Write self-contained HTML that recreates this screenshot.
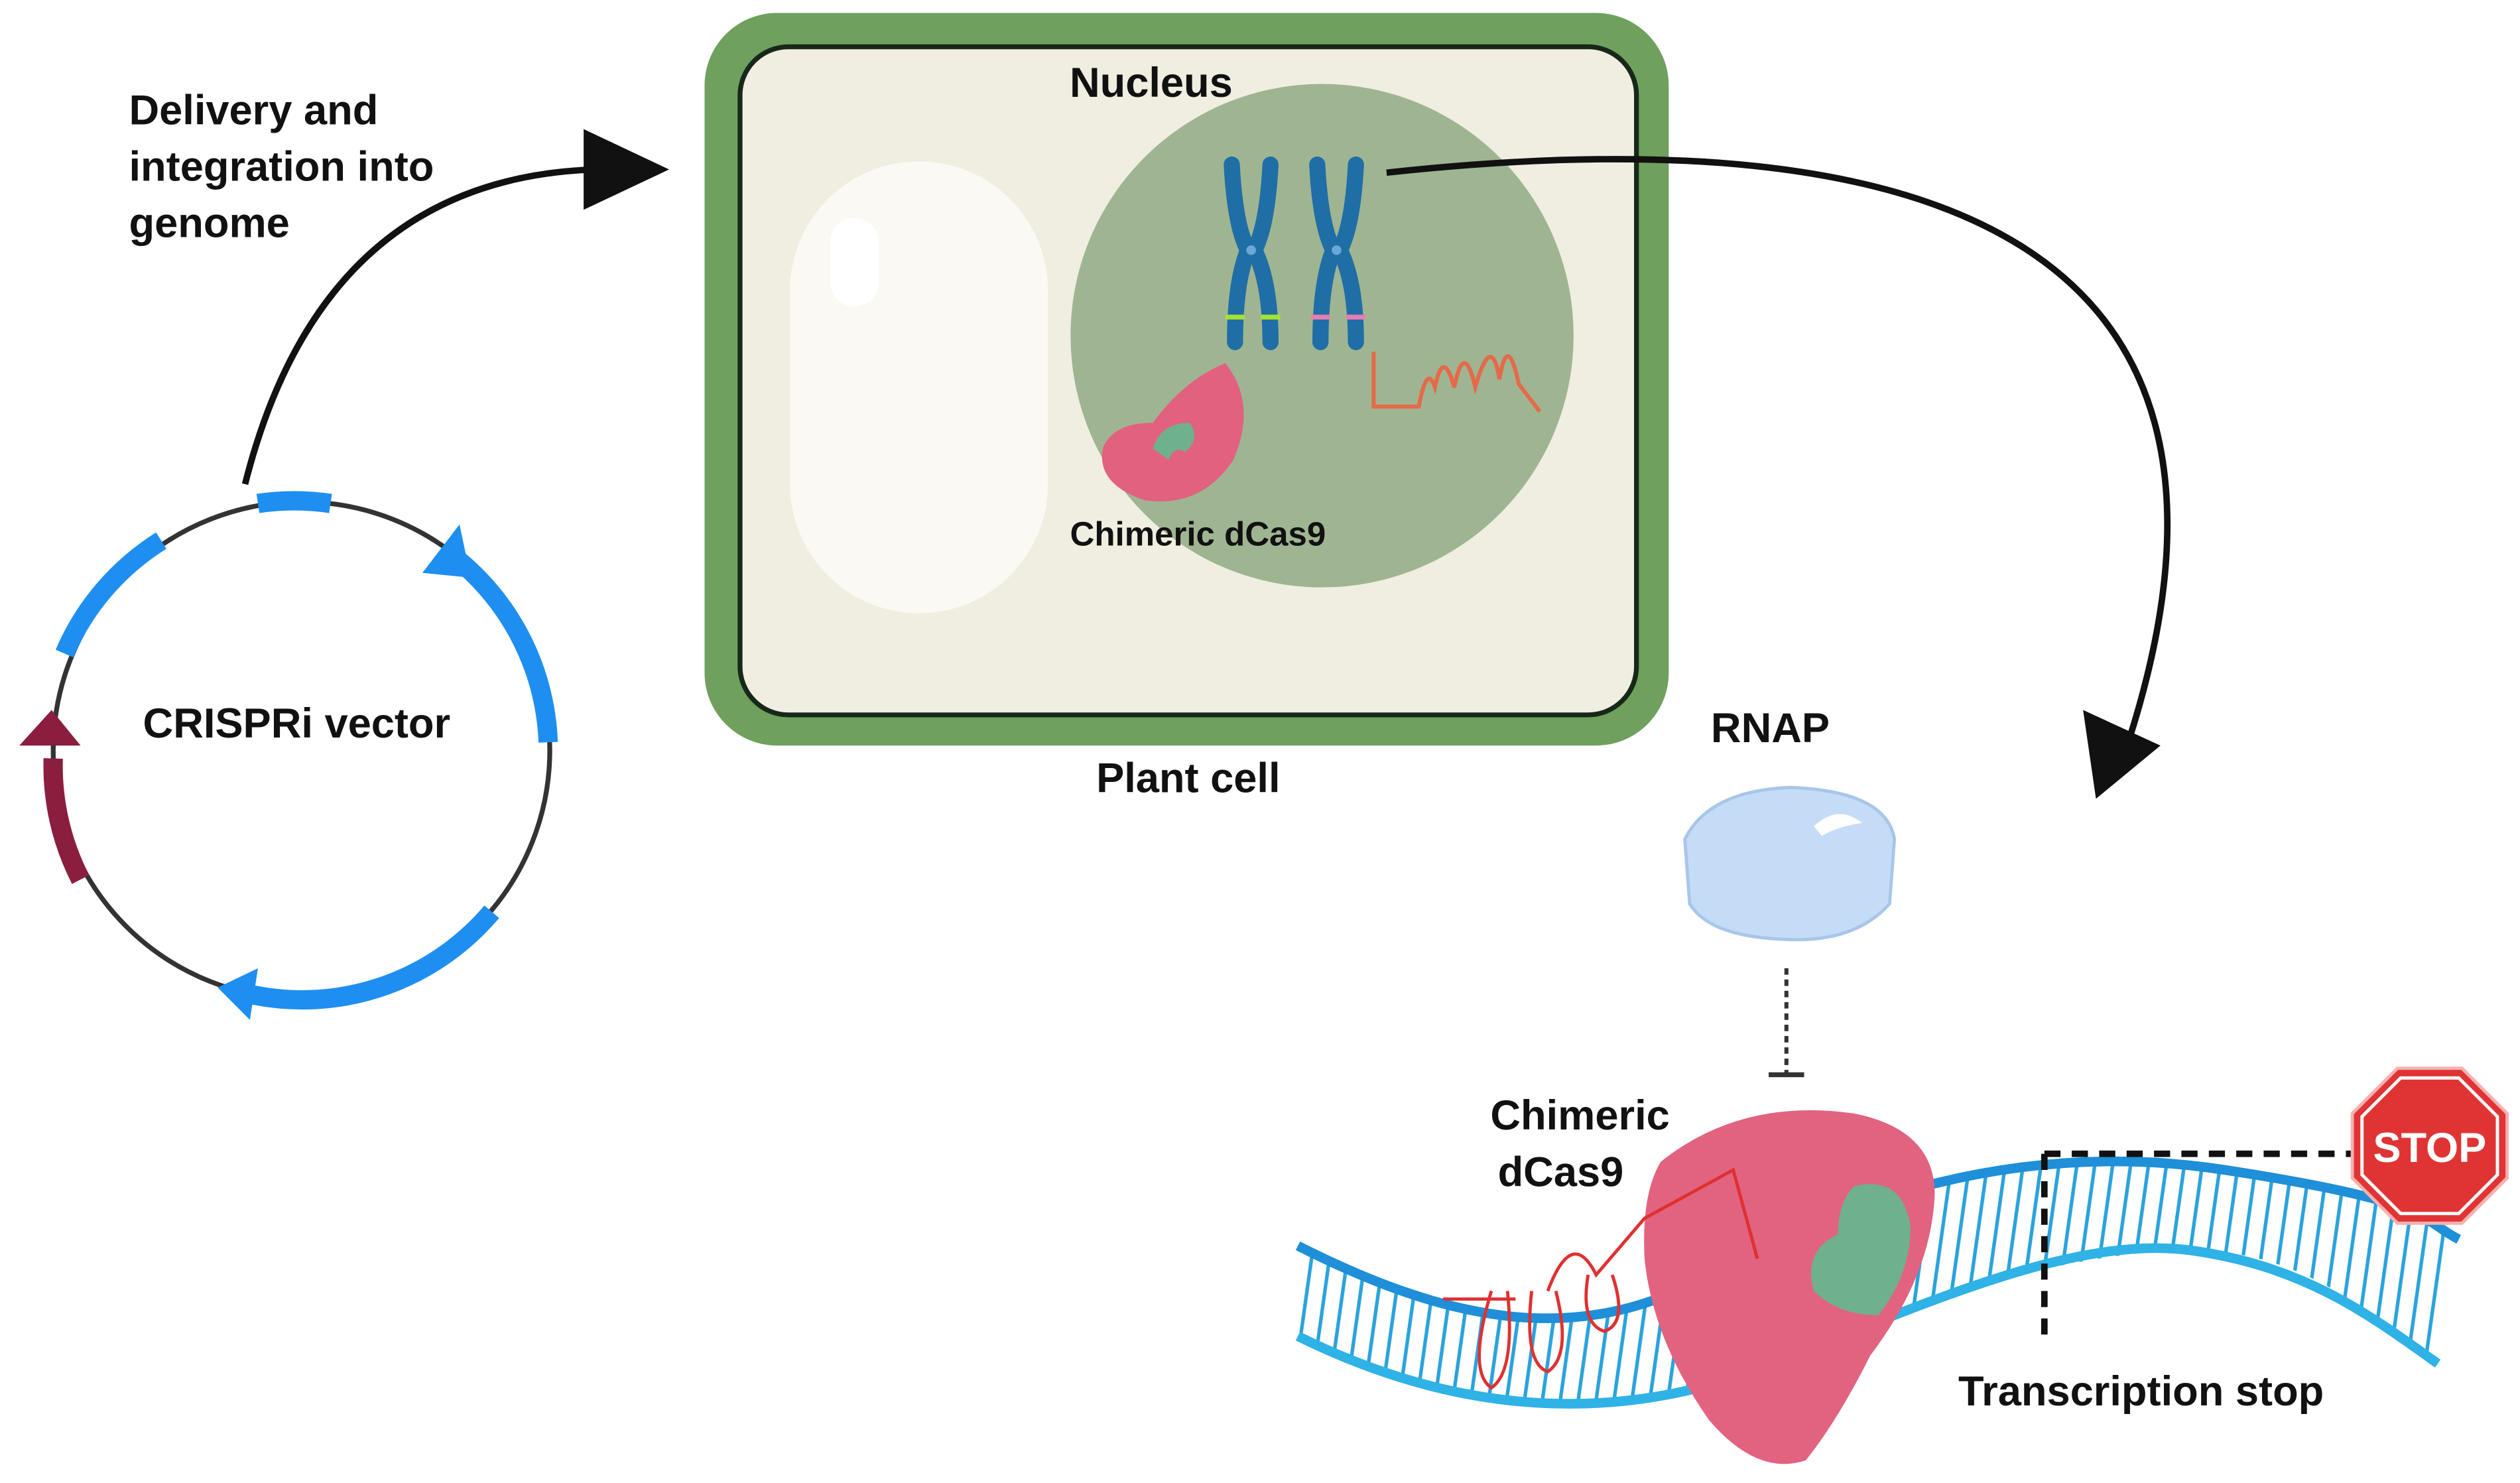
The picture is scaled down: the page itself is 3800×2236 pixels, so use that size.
<!DOCTYPE html>
<html><head><meta charset="utf-8"><style>
html,body{margin:0;padding:0;background:#fff;}
svg{display:block;}
text{font-family:"Liberation Sans",sans-serif;font-weight:bold;fill:#111;}
</style></head><body>
<svg width="3800" height="2236" viewBox="0 0 1563 919" preserveAspectRatio="none" xmlns="http://www.w3.org/2000/svg">
<defs>
<pattern id="rungs" width="11" height="20" patternUnits="userSpaceOnUse" patternTransform="rotate(8)">
<rect x="0" y="0" width="2.2" height="20" fill="#2aa3dc"/>
</pattern>
<clipPath id="dnaclip">
<path d="M805,772 C900,820 980,835 1060,790 S1250,705 1380,725 S1500,755 1525,768 L1512,845 C1470,815 1430,775 1360,775 S1200,800 1100,845 S900,875 805,828 Z"/>
</clipPath>
</defs>

<!-- plant cell -->
<rect x="437" y="8" width="598" height="454" rx="45" fill="#6fa05e"/>
<rect x="459" y="29" width="556" height="414" rx="30" fill="#f0eee0" stroke="#17281a" stroke-width="3"/>
<rect x="490" y="100" width="160" height="280" rx="80" fill="#faf9f4"/>
<rect x="515" y="135" width="30" height="55" rx="15" fill="#ffffff"/>
<circle cx="820" cy="208" r="156" fill="#9fb592"/>
<!-- chromosomes -->
<g stroke="#1f6ea6" stroke-width="10" stroke-linecap="round" fill="none">
<path d="M764,102 Q766,140 774,155 Q766,175 766,212"/>
<path d="M788,102 Q786,140 778,155 Q788,175 788,212"/>
<path d="M817,102 Q819,140 827,155 Q819,175 819,212"/>
<path d="M841,102 Q839,140 831,155 Q841,175 841,212"/>
</g>
<circle cx="776" cy="155" r="3" fill="#6aa8d8"/><circle cx="829" cy="155" r="3" fill="#6aa8d8"/>
<rect x="760" y="195" width="12" height="3" fill="#a6e22e"/><rect x="782" y="195" width="12" height="3" fill="#a6e22e"/>
<rect x="813" y="195" width="12" height="3" fill="#e77fb0"/><rect x="835" y="195" width="12" height="3" fill="#e77fb0"/>
<!-- RNA -->
<path d="M852,218 L852,252 L880,252 Q885,225 890,240 Q895,215 902,240 Q908,210 915,240 Q925,205 930,235 Q935,205 942,238 L955,255" fill="none" stroke="#e56a48" stroke-width="2.5"/>
<!-- small dCas9 -->
<path d="M760,225 Q780,250 765,285 Q745,315 710,310 Q680,300 684,278 Q690,262 715,262 Q735,235 760,225 Z" fill="#e2617e"/>
<path d="M715,278 Q720,262 738,262 Q745,272 735,280 Q728,276 725,285 Z" fill="#6fb08e"/>
<text x="743" y="338" font-size="21" text-anchor="middle">Chimeric dCas9</text>
<text x="714" y="60" font-size="26" text-anchor="middle">Nucleus</text>
<text x="737" y="491" font-size="26" text-anchor="middle">Plant cell</text>

<!-- arrows -->
<path d="M152,300 Q200,110 370,105" fill="none" stroke="#111" stroke-width="4"/>
<polygon points="362,80 415,105 362,130" fill="#111"/>
<path d="M860,107 C1200,70 1420,150 1320,460" fill="none" stroke="#111" stroke-width="4"/>
<polygon points="1292,440 1340,462 1300,495" fill="#111"/>
<text x="80" y="77" font-size="26">Delivery and</text>
<text x="80" y="112" font-size="26">integration into</text>
<text x="80" y="147" font-size="26">genome</text>

<!-- plasmid -->
<circle cx="187" cy="465" r="154" fill="none" stroke="#333" stroke-width="3"/>
<g fill="none" stroke="#1e8ff0" stroke-width="12">
<path d="M160,312 A154,154 0 0 1 205,312"/>
<path d="M100,335 A154,154 0 0 0 40,405"/>
<path d="M275,340 A154,154 0 0 1 340,460"/>
<path d="M305,565 A154,154 0 0 1 150,615"/>
</g>
<polygon points="262,355 285,325 292,358" fill="#1e8ff0"/>
<polygon points="155,632 135,612 160,600" fill="#1e8ff0"/>
<path d="M50,545 A154,154 0 0 1 33,470" fill="none" stroke="#8b1d3f" stroke-width="12"/>
<polygon points="12,462 32,440 50,462" fill="#8b1d3f"/>
<text x="184" y="457" font-size="26" text-anchor="middle">CRISPRi vector</text>

<!-- RNAP -->
<text x="1098" y="460" font-size="26" text-anchor="middle">RNAP</text>
<path d="M1045,520 Q1060,490 1110,488 Q1170,490 1175,520 L1172,560 Q1150,585 1105,582 Q1060,580 1048,560 Z" fill="#c5dcf6" stroke="#a8c6ea" stroke-width="2"/>
<path d="M1125,512 Q1140,498 1155,510 Q1140,512 1130,518 Z" fill="#fff"/>
<line x1="1108" y1="600" x2="1108" y2="665" stroke="#333" stroke-width="2.5" stroke-dasharray="4,3"/>
<line x1="1097" y1="666" x2="1119" y2="666" stroke="#333" stroke-width="3"/>

<!-- DNA -->
<rect x="800" y="690" width="730" height="200" fill="url(#rungs)" clip-path="url(#dnaclip)"/>
<path d="M805,772 C900,820 980,835 1060,790 S1250,705 1380,725 S1500,755 1525,768" fill="none" stroke="#1e8fd8" stroke-width="6"/>
<path d="M805,828 C900,875 1000,885 1100,845 S1290,765 1360,775 S1470,815 1512,845" fill="none" stroke="#2fb2e6" stroke-width="6"/>
<path d="M1268,715 L1460,715 M1268,715 L1268,830" fill="none" stroke="#111" stroke-width="4" stroke-dasharray="10,7"/>
<!-- big dCas9 -->
<path d="M1030,720 Q1080,680 1150,690 Q1200,700 1200,740 Q1198,790 1160,840 Q1140,880 1120,905 Q1090,915 1060,880 Q1025,830 1020,780 Q1018,740 1030,720 Z" fill="#e2637f"/>
<path d="M1150,735 Q1180,728 1185,760 Q1185,790 1165,815 Q1140,815 1125,800 Q1118,775 1140,765 Q1140,745 1150,735 Z" fill="#6fb08e"/>
<path d="M895,805 L940,805 M960,800 Q975,760 990,790 L1020,755 L1075,725 L1090,780" fill="none" stroke="#e03030" stroke-width="2"/>
<path d="M925,800 Q910,850 925,860 Q940,850 935,800 M950,800 Q945,845 960,850 Q975,840 965,800 M985,790 Q980,820 995,825 Q1010,820 1000,790" fill="none" stroke="#e03030" stroke-width="2"/>
<text x="980" y="700" font-size="26" text-anchor="middle">Chimeric</text>
<text x="968" y="735" font-size="26" text-anchor="middle">dCas9</text>
<!-- STOP -->
<polygon points="1487,662 1527,662 1555,690 1555,730 1527,758 1487,758 1459,730 1459,690" fill="#e03434" stroke="#f6b0b0" stroke-width="2"/>
<polygon points="1489,668 1525,668 1549,692 1549,728 1525,752 1489,752 1465,728 1465,692" fill="none" stroke="#fff" stroke-width="2"/>
<text x="1507" y="720" font-size="26" text-anchor="middle" style="fill:#fff">STOP</text>
<text x="1328" y="871" font-size="26" text-anchor="middle">Transcription stop</text>
</svg>
</body></html>
